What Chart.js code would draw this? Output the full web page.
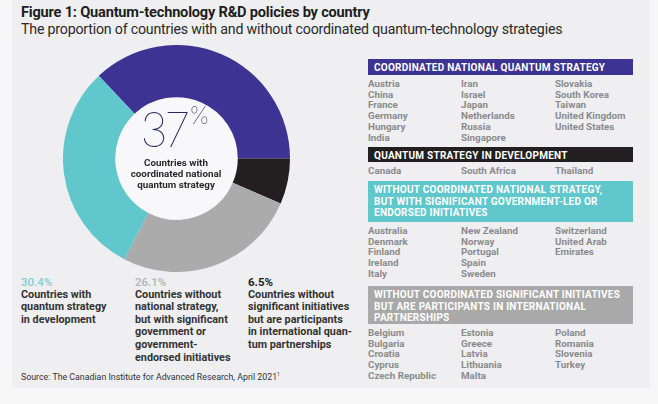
<!DOCTYPE html>
<html>
<head>
<meta charset="utf-8">
<script src="https://cdn.jsdelivr.net/npm/chart.js@4.4.0/dist/chart.umd.min.js"></script>
<style>
  html,body{margin:0;padding:0;}
  body{width:658px;height:404px;background:#f6f6f6;position:relative;overflow:hidden;font-family:Roboto,"Noto Sans",sans-serif;}
  #panel{position:absolute;left:12px;top:0;width:638px;height:388px;background:#efeff1;}
  .abs{position:absolute;white-space:nowrap;}
  #title{left:21px;top:3px;font-size:14.6px;font-weight:700;color:#1e1e1e;letter-spacing:-0.2px;}
  #subtitle{left:21px;top:21px;font-size:14.2px;color:#2a2a2a;letter-spacing:-0.2px;}
  #chartBox{position:absolute;left:63px;top:45px;width:227px;height:227px;}
  #bigpct{left:120px;top:110px;width:110px;height:40px;text-align:center;font-family:Inter,Roboto,sans-serif;font-weight:100;color:#2b2862;font-size:47px;line-height:40px;letter-spacing:-3px;}
  #bigpct sup{font-size:24px;vertical-align:top;position:relative;top:-6px;letter-spacing:0;margin-left:2px;line-height:24px;}
  #centerTxt{left:116px;top:157px;width:120px;text-align:center;font-size:9.8px;font-weight:700;color:#2a2a2a;line-height:11px;white-space:normal;}
  .lab{position:absolute;top:276px;font-size:10.8px;font-weight:700;color:#333;line-height:12.6px;}
  .lab .pct{font-size:11.5px;font-weight:500;}
  #source{left:21px;top:371px;font-size:8.8px;color:#333;}
  .bar{position:absolute;left:368px;width:265px;color:#fff;font-weight:700;font-size:10px;line-height:11.6px;box-sizing:border-box;padding-left:6px;letter-spacing:0.25px;}
  .col{position:absolute;font-size:9.8px;font-weight:700;color:#8b8b8d;line-height:10.7px;white-space:nowrap;}
</style>
</head>
<body>
<div id="panel"></div>
<div id="title" class="abs">Figure 1: Quantum-technology R&amp;D policies by country</div>
<div id="subtitle" class="abs">The proportion of countries with and without coordinated quantum-technology strategies</div>
<div id="chartBox"><canvas id="c"></canvas></div>
<div id="bigpct" class="abs"></div>
<div id="centerTxt" class="abs">Countries with<br>coordinated national<br>quantum strategy</div>
<div id="labels"></div>
<div id="source" class="abs">Source: The Canadian Institute for Advanced Research, April 2021<sup style="font-size:5px">1</sup></div>
<div id="lists"></div>
<script>
// ---- data ----
const categories = [
  "Countries with coordinated national quantum strategy",
  "Countries without significant initiatives but are participants in international quantum partnerships",
  "Countries without national strategy, but with significant government or government-endorsed initiatives",
  "Countries with quantum strategy in development"
];
const shares = [37, 6.5, 26.1, 30.4];
const segmentColors = ["#3d3392", "#231f20", "#ababab", "#60c7cc"];
const pctTextColors = ["#2b2862", "#1e1e1e", "#b3b3b3", "#7fd0d4"];

const labelLines = [
  ["Countries with", "quantum strategy", "in development"],
  ["Countries without", "national strategy,", "but with significant", "government or", "government-", "endorsed initiatives"],
  ["Countries without", "significant initiatives", "but are participants", "in international quan-", "tum partnerships"]
];
const labelIndex = [3, 2, 1];

const groupTitles = [
  ["COORDINATED NATIONAL QUANTUM STRATEGY"],
  ["QUANTUM STRATEGY IN DEVELOPMENT"],
  ["WITHOUT COORDINATED NATIONAL STRATEGY,", "BUT WITH SIGNIFICANT GOVERNMENT-LED OR", "ENDORSED INITIATIVES"],
  ["WITHOUT COORDINATED SIGNIFICANT INITIATIVES", "BUT ARE PARTICIPANTS IN INTERNATIONAL", "PARTNERSHIPS"]
];
const groupColors = ["#3d3392", "#231f20", "#60c7cc", "#a9a9a9"];
const coordinated = [
  ["Austria","China","France","Germany","Hungary","India"],
  ["Iran","Israel","Japan","Netherlands","Russia","Singapore"],
  ["Slovakia","South Korea","Taiwan","United Kingdom","United States"]
];
const inDevelopment = [["Canada"],["South Africa"],["Thailand"]];
const govInitiatives = [
  ["Australia","Denmark","Finland","Ireland","Italy"],
  ["New Zealand","Norway","Portugal","Spain","Sweden"],
  ["Switzerland","United Arab","Emirates"]
];
const partnerships = [
  ["Belgium","Bulgaria","Croatia","Cyprus","Czech Republic"],
  ["Estonia","Greece","Latvia","Lithuania","Malta"],
  ["Poland","Romania","Slovenia","Turkey"]
];

// ---- doughnut ----
const total = shares.reduce((a,b)=>a+b,0);
const innerFill = {
  id:'innerFill',
  beforeDatasetsDraw(chart){
    const arc = chart.getDatasetMeta(0).data[0];
    if(!arc) return;
    const ctx = chart.ctx;
    ctx.save();
    ctx.beginPath();
    ctx.arc(arc.x, arc.y, arc.innerRadius, 0, Math.PI*2);
    ctx.fillStyle = '#f8f8fa';
    ctx.fill();
    ctx.restore();
  }
};
new Chart(document.getElementById('c'), {
  type:'doughnut',
  data:{labels:categories, datasets:[{data:shares, backgroundColor:segmentColors, borderWidth:0, hoverOffset:0}]},
  options:{
    responsive:true, maintainAspectRatio:false, animation:false,
    rotation: 90 - shares[0]/total*360,
    cutout:'54%',
    layout:{padding:0},
    plugins:{legend:{display:false}, tooltip:{enabled:false}}
  },
  plugins:[innerFill]
});

document.getElementById('bigpct').innerHTML = shares[0] + '<sup>%</sup>';

// ---- bottom labels ----
const labX = [21, 135, 248];
const labelsDiv = document.getElementById('labels');
labelIndex.forEach((si, k) => {
  const d = document.createElement('div');
  d.className = 'lab';
  d.style.left = labX[k] + 'px';
  d.innerHTML = '<div class="pct" style="color:' + pctTextColors[si] + (si===1?';font-weight:700':'') + '">' + shares[si] + '%</div>' + labelLines[k].join('<br>');
  labelsDiv.appendChild(d);
});

// ---- right lists ----
const lists = document.getElementById('lists');
const barTops = [59, 147, 181, 286];
const barHeights = [16, 15, 41, 38];
const listTops = [79, 166, 226, 328];
const colX = [368, 461, 555];
const groups = [coordinated, inDevelopment, govInitiatives, partnerships];
groups.forEach((g, i) => {
  const b = document.createElement('div');
  b.className = 'bar';
  b.style.top = barTops[i] + 'px';
  b.style.height = barHeights[i] + 'px';
  b.style.background = groupColors[i];
  b.style.paddingTop = (groupTitles[i].length === 1 ? 2.5 : 3) + 'px';
  b.innerHTML = groupTitles[i].join('<br>');
  lists.appendChild(b);
  g.forEach((col, j) => {
    const c = document.createElement('div');
    c.className = 'col';
    c.style.left = colX[j] + 'px';
    c.style.top = listTops[i] + 'px';
    c.innerHTML = col.join('<br>');
    lists.appendChild(c);
  });
});
</script>
</body>
</html>
